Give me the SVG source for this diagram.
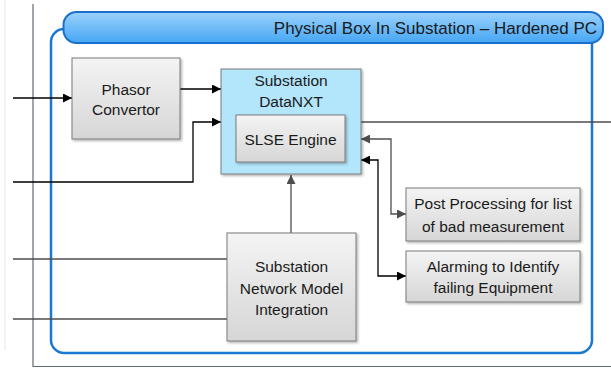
<svg xmlns="http://www.w3.org/2000/svg" width="611" height="368" viewBox="0 0 611 368">
  <defs>
    <linearGradient id="hdrGrad" x1="0" y1="0" x2="0" y2="1">
      <stop offset="0" stop-color="#9bd2fc"/>
      <stop offset="1" stop-color="#45a6f4"/>
    </linearGradient>
    <linearGradient id="boxGrad" x1="0" y1="0" x2="0" y2="1">
      <stop offset="0" stop-color="#f4f4f4"/>
      <stop offset="1" stop-color="#d6d6d6"/>
    </linearGradient>
    <filter id="shadow" x="-10%" y="-10%" width="130%" height="130%">
      <feDropShadow dx="1.5" dy="1.5" stdDeviation="1" flood-color="#000" flood-opacity="0.3"/>
    </filter>
    <marker id="ahBlack" viewBox="0 0 10 10" refX="10" refY="5" markerWidth="10" markerHeight="9" markerUnits="userSpaceOnUse" orient="auto-start-reverse">
      <path d="M0,0 L10,5 L0,10 z" fill="#000"/>
    </marker>
    <marker id="ahGray" viewBox="0 0 10 10" refX="10" refY="5" markerWidth="10" markerHeight="9" markerUnits="userSpaceOnUse" orient="auto-start-reverse">
      <path d="M0,0 L10,5 L0,10 z" fill="#4d4d4d"/>
    </marker>
  </defs>
  <style>
    text { font-family: "Liberation Sans", Arial, sans-serif; font-size: 15.5px; fill: #1a1a1a; text-anchor: middle; }
    .box { fill: url(#boxGrad); stroke: #7a7a7a; stroke-width: 1; filter: url(#shadow); }
    .blue { fill: #b3e5fb; stroke: #7a7a7a; stroke-width: 1; filter: url(#shadow); }
    .wire { fill: none; stroke: #000; stroke-width: 1.3; }
    .wireGray { fill: none; stroke: #4d4d4d; stroke-width: 1.3; }
    .frame { fill: none; stroke: #5f6a75; stroke-width: 1.2; }
  </style>

  <rect width="611" height="368" fill="#ffffff"/>

  <!-- page frame -->
  <line x1="5" y1="0" x2="5" y2="350" stroke="#e6e6e6" stroke-width="1"/>
  <path class="frame" d="M33,4 V366.5 H611"/>

  <!-- container -->
  <g id="container">
    <rect x="51" y="29" width="541" height="324" rx="13" fill="#ffffff" stroke="#1a78d2" stroke-width="2.5"/>
    <rect x="63.5" y="12" width="539.5" height="31" rx="13" fill="url(#hdrGrad)" stroke="#1a6fcc" stroke-width="2"/>
    <text x="597" y="34" style="text-anchor:end;font-size:17px">Physical Box In Substation – Hardened PC</text>
  </g>

  <!-- connectors -->
  <g id="connectors">
    <path class="wire" d="M13,98 H72" marker-end="url(#ahBlack)"/>
    <path class="wire" d="M180,89 H221" marker-end="url(#ahBlack)"/>
    <path class="wire" d="M13,182 H193 V122 H221" marker-end="url(#ahBlack)"/>
    <path class="wireGray" d="M361,122 H611"/>
    <path class="wireGray" d="M361,139 H391 V214 H406" marker-start="url(#ahGray)" marker-end="url(#ahGray)"/>
    <path class="wire" d="M361,160 H378 V276 H406" marker-start="url(#ahBlack)" marker-end="url(#ahBlack)"/>
    <path class="wireGray" d="M291,233 V175" marker-end="url(#ahGray)"/>
    <path class="wireGray" d="M13,259 H227"/>
    <path class="wireGray" d="M13,319 H227"/>
  </g>

  <g id="phasor">
    <rect class="box" x="72" y="58" width="108" height="81"/>
    <text x="126" y="94.5">Phasor</text>
    <text x="126" y="114.5">Convertor</text>
  </g>

  <g id="datanxt">
    <rect class="blue" x="221" y="69" width="140" height="105"/>
    <text x="291" y="85.5">Substation</text>
    <text x="291" y="106.5">DataNXT</text>
  </g>

  <g id="slse">
    <rect class="box" x="236" y="115" width="109" height="47"/>
    <text x="290.5" y="144.5">SLSE Engine</text>
  </g>

  <g id="network-model">
    <rect class="box" x="227" y="233" width="129" height="108"/>
    <text x="291.5" y="271.5">Substation</text>
    <text x="291.5" y="293.5">Network Model</text>
    <text x="291.5" y="314.5">Integration</text>
  </g>

  <g id="post-processing">
    <rect class="box" x="406" y="188" width="174" height="53"/>
    <text x="493" y="208.5">Post Processing for list</text>
    <text x="493" y="231.5">of bad measurement</text>
  </g>

  <g id="alarming">
    <rect class="box" x="406" y="251" width="174" height="51"/>
    <text x="493" y="271.5">Alarming to Identify</text>
    <text x="493" y="292.5">failing Equipment</text>
  </g>
</svg>
